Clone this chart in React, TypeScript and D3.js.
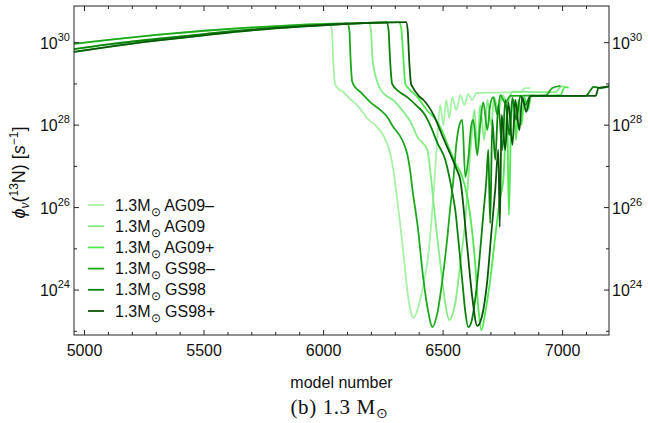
import React from "react";
import * as d3 from "d3";

const W = 648;
const H = 423;
const PL = 74, PR = 609, PT = 6, PB = 335;

const xDomain: [number, number] = [4956, 7194];
const yExpDomain: [number, number] = [22.91, 30.89];

const xMajorTicks = [5000, 5500, 6000, 6500, 7000];
const xMinorTicks = [5100, 5200, 5300, 5400, 5600, 5700, 5800, 5900, 6100, 6200, 6300, 6400, 6600, 6700, 6800, 6900, 7100];
const yMajorExp = [24, 26, 28, 30];
const yMinorExp = [23, 25, 27, 29];

const massLabel = "1.3";
const modelLabels = ["AG09\u2013", "AG09", "AG09+", "GS98\u2013", "GS98", "GS98+"];
const colors = ["#a6f2a6", "#86ec86", "#4fe84f", "#1ea81e", "#0a830a", "#0b560b"];

// [model number, log10(phi)]
const AG09minus: [number, number][] = [
  [4950, 29.97], [5100, 30.07], [5300, 30.19], [5500, 30.29], [5700, 30.37], [5900, 30.43], [6025, 30.46],
  [6035, 30.3], [6040, 29.6], [6048, 29.0], [6062, 28.88], [6080, 28.82], [6100, 28.7], [6150, 28.42],
  [6185, 28.15], [6216, 28.0], [6250, 27.75], [6278, 27.33], [6295, 26.8], [6308, 26.18], [6320, 25.63],
  [6337, 24.73], [6350, 24.0], [6362, 23.56], [6375, 23.32], [6387, 23.42], [6404, 23.76], [6421, 24.24],
  [6434, 24.66], [6450, 25.58], [6463, 26.55], [6475, 27.64], [6488, 28.49], [6501, 28.0], [6513, 28.61],
  [6526, 28.17], [6538, 28.68], [6555, 28.37], [6572, 28.73], [6589, 28.49], [6605, 28.76], [6622, 28.61],
  [6639, 28.78], [6700, 28.79], [6823, 28.8], [6844, 28.9], [6865, 28.9],
];
const AG09: [number, number][] = [
  [4950, 29.84], [5100, 29.96], [5300, 30.09], [5500, 30.21], [5700, 30.32], [5900, 30.4], [6100, 30.46], [6190, 30.48],
  [6198, 30.3], [6205, 29.6], [6222, 29.1], [6240, 28.85], [6265, 28.7], [6291, 28.61], [6333, 28.33],
  [6362, 28.1], [6393, 27.71], [6434, 27.4], [6446, 26.91], [6459, 26.18], [6472, 25.46], [6488, 24.66],
  [6509, 23.68], [6526, 23.27], [6538, 23.39], [6551, 23.68], [6572, 24.66], [6593, 25.7], [6605, 26.67],
  [6618, 27.64], [6631, 28.37], [6643, 27.4], [6655, 28.49], [6672, 27.64], [6685, 28.61], [6701, 28.0],
  [6714, 28.68], [6731, 28.32], [6748, 28.73], [6769, 28.54], [6790, 28.81], [6900, 28.8], [6970, 28.8],
  [6991, 28.93], [7004, 28.95],
];
const AG09plus: [number, number][] = [
  [4950, 29.77], [5100, 29.9], [5300, 30.05], [5500, 30.18], [5700, 30.3], [5900, 30.39], [6100, 30.46], [6315, 30.5],
  [6325, 30.35], [6333, 29.7], [6342, 29.0], [6354, 28.9], [6393, 28.68], [6434, 28.35], [6460, 28.2],
  [6488, 27.96], [6521, 27.5], [6550, 27.1], [6580, 26.75], [6600, 26.3], [6618, 25.6], [6634, 24.66],
  [6647, 23.59], [6660, 23.03], [6676, 23.44], [6697, 24.24], [6718, 25.29], [6739, 26.26], [6752, 26.67],
  [6760, 27.64], [6768, 28.37], [6775, 25.82], [6785, 28.13], [6795, 28.61], [6805, 27.64], [6815, 28.61],
  [6828, 28.0], [6840, 28.68], [6855, 28.37], [6870, 28.73], [6890, 28.71], [6990, 28.73], [7010, 28.93],
  [7025, 28.9],
];
const GS98minus: [number, number][] = [
  [4950, 29.97], [5100, 30.07], [5300, 30.19], [5500, 30.29], [5700, 30.37], [5900, 30.43], [6100, 30.47],
  [6108, 30.3], [6113, 29.6], [6120, 29.05], [6135, 28.9], [6153, 28.81], [6195, 28.56], [6237, 28.37],
  [6266, 28.2], [6291, 27.96], [6329, 27.64], [6350, 27.3], [6362, 26.91], [6372, 26.43], [6393, 25.58],
  [6418, 24.24], [6439, 23.44], [6455, 23.1], [6476, 23.44], [6497, 24.24], [6518, 25.29], [6530, 26.01],
  [6543, 26.67], [6555, 27.52], [6568, 28.0], [6580, 28.13], [6593, 26.74], [6605, 27.16], [6618, 28.0],
  [6626, 28.13], [6643, 27.27], [6655, 28.0], [6668, 28.56], [6685, 27.88], [6697, 28.49], [6710, 28.68],
  [6727, 28.25], [6739, 28.73], [6760, 28.54], [6781, 28.71], [6928, 28.72], [6957, 28.9], [6991, 28.95],
];
const GS98: [number, number][] = [
  [4950, 29.84], [5100, 29.96], [5300, 30.09], [5500, 30.21], [5700, 30.32], [5900, 30.4], [6100, 30.46], [6265, 30.49],
  [6272, 30.3], [6278, 29.6], [6287, 29.0], [6312, 28.83], [6350, 28.68], [6393, 28.45], [6418, 28.3],
  [6446, 28.0], [6476, 27.57], [6509, 27.16], [6539, 26.35], [6551, 25.94], [6564, 25.21], [6580, 24.24],
  [6593, 23.47], [6605, 23.1], [6618, 23.22], [6634, 23.76], [6651, 24.68], [6668, 25.82], [6681, 26.67],
  [6689, 27.4], [6697, 25.62], [6706, 28.13], [6718, 27.16], [6731, 28.49], [6748, 27.4], [6760, 28.61],
  [6777, 27.76], [6790, 28.66], [6806, 28.13], [6823, 28.71], [6844, 28.49], [6865, 28.71], [7096, 28.71],
  [7117, 28.85], [7129, 28.93], [7159, 28.9], [7200, 28.95],
];
const GS98plus: [number, number][] = [
  [4950, 29.77], [5100, 29.9], [5300, 30.05], [5500, 30.18], [5700, 30.3], [5900, 30.39], [6100, 30.46], [6345, 30.5],
  [6352, 30.3], [6358, 29.6], [6366, 29.0], [6372, 28.93], [6400, 28.7], [6418, 28.61], [6460, 28.25],
  [6500, 27.7], [6530, 27.3], [6555, 26.95], [6572, 26.67], [6601, 25.04], [6622, 23.83], [6643, 23.13],
  [6655, 23.22], [6668, 23.51], [6685, 24.24], [6701, 25.33], [6718, 26.43], [6731, 27.4], [6737, 25.53],
  [6745, 28.25], [6760, 27.4], [6773, 28.56], [6790, 27.52], [6802, 28.61], [6819, 27.88], [6831, 28.68],
  [6848, 28.32], [6865, 28.71], [7138, 28.71], [7150, 28.9], [7170, 28.92], [7200, 28.95],
];

const seriesData = [AG09minus, AG09, AG09plus, GS98minus, GS98, GS98plus];

const SANS = "'Liberation Sans', Arial, sans-serif";
const SERIF = "'Liberation Serif', 'Times New Roman', serif";

export default function App() {
  const x = d3.scaleLinear().domain(xDomain).range([PL, PR]);
  const y = d3.scaleLog().domain([10 ** yExpDomain[0], 10 ** yExpDomain[1]]).range([PB, PT]);
  const line = d3
    .line<[number, number]>()
    .x((d) => x(d[0]))
    .y((d) => y(10 ** d[1]))
    .curve(d3.curveMonotoneX);

  const axisColor = "#222";
  const majorLen = 5;
  const minorLen = 3;

  const legendY0 = 205;
  const legendDy = 21.2;

  return (
    <svg width={W} height={H} style={{ position: "fixed", left: 0, top: 0, background: "#fff" }}>
      <defs>
        <clipPath id="plotclip">
          <rect x={PL} y={PT} width={PR - PL} height={PB - PT} />
        </clipPath>
      </defs>
      <rect x={0} y={0} width={W} height={H} fill="#fff" />

      <g clipPath="url(#plotclip)">
        {seriesData.map((s, i) => (
          <path key={i} d={line(s) || ""} fill="none" stroke={colors[i]} strokeWidth={1.8} strokeLinejoin="round" />
        ))}
      </g>

      {/* frame */}
      <rect x={PL} y={PT} width={PR - PL} height={PB - PT} fill="none" stroke={axisColor} strokeWidth={1} />

      {/* x ticks */}
      {xMajorTicks.map((t) => (
        <g key={"xm" + t}>
          <line x1={x(t)} x2={x(t)} y1={PB} y2={PB - majorLen} stroke={axisColor} />
          <line x1={x(t)} x2={x(t)} y1={PT} y2={PT + majorLen} stroke={axisColor} />
          <text x={x(t)} y={356} textAnchor="middle" fontFamily={SANS} fontSize={16} fill="#111">
            {t}
          </text>
        </g>
      ))}
      {xMinorTicks.map((t) => (
        <g key={"xn" + t}>
          <line x1={x(t)} x2={x(t)} y1={PB} y2={PB - minorLen} stroke={axisColor} />
          <line x1={x(t)} x2={x(t)} y1={PT} y2={PT + minorLen} stroke={axisColor} />
        </g>
      ))}

      {/* y ticks */}
      {yMajorExp.map((e) => {
        const yy = y(10 ** e);
        return (
          <g key={"ym" + e}>
            <line x1={PL} x2={PL + majorLen} y1={yy} y2={yy} stroke={axisColor} />
            <line x1={PR} x2={PR - majorLen} y1={yy} y2={yy} stroke={axisColor} />
            <text x={70} y={yy + 6} textAnchor="end" fontFamily={SANS} fontSize={16} fill="#111">
              10<tspan dy={-8} fontSize={11}>{e}</tspan>
            </text>
            <text x={612} y={yy + 6} textAnchor="start" fontFamily={SANS} fontSize={16} fill="#111">
              10<tspan dy={-8} fontSize={11}>{e}</tspan>
            </text>
          </g>
        );
      })}
      {yMinorExp.map((e) => {
        const yy = y(10 ** e);
        return (
          <g key={"yn" + e}>
            <line x1={PL} x2={PL + minorLen} y1={yy} y2={yy} stroke={axisColor} />
            <line x1={PR} x2={PR - minorLen} y1={yy} y2={yy} stroke={axisColor} />
          </g>
        );
      })}

      {/* axis titles */}
      <text x={(PL + PR) / 2} y={388} textAnchor="middle" fontFamily={SANS} fontSize={16} fill="#111">
        model number
      </text>
      <text transform={`translate(25, ${(PT + PB) / 2 + 2}) rotate(-90)`} textAnchor="middle" fontFamily={SANS} fontSize={18} fill="#111">
        <tspan fontStyle="italic">{"\u03d5"}</tspan>
        <tspan dy={4} fontSize={12} fontStyle="italic">{"\u03bd"}</tspan>
        <tspan dy={-4}>(</tspan>
        <tspan dy={-7} fontSize={12}>13</tspan>
        <tspan dy={7}>N) [</tspan>
        <tspan fontStyle="italic">s</tspan>
        <tspan dy={-7} fontSize={12}>{"\u22121"}</tspan>
        <tspan dy={7}>]</tspan>
      </text>

      {/* caption */}
      <text x={(PL + PR) / 2 - 2} y={414} textAnchor="middle" fontFamily={SERIF} fontSize={21} letterSpacing={0.6} fill="#111">
        (b) 1.3 M<tspan dy={4} fontSize={14}>{"\u2299"}</tspan>
      </text>

      {/* legend */}
      {modelLabels.map((m, i) => {
        const ly = legendY0 + i * legendDy;
        return (
          <g key={"lg" + i}>
            <line x1={88} x2={104} y1={ly} y2={ly} stroke={colors[i]} strokeWidth={1.8} />
            <text x={115} y={ly + 5.5} fontFamily={SANS} fontSize={16} fill="#111">
              {massLabel}M<tspan dy={5} fontSize={12}>{"\u2299"}</tspan>
              <tspan dy={-5}>{" " + m}</tspan>
            </text>
          </g>
        );
      })}
    </svg>
  );
}
